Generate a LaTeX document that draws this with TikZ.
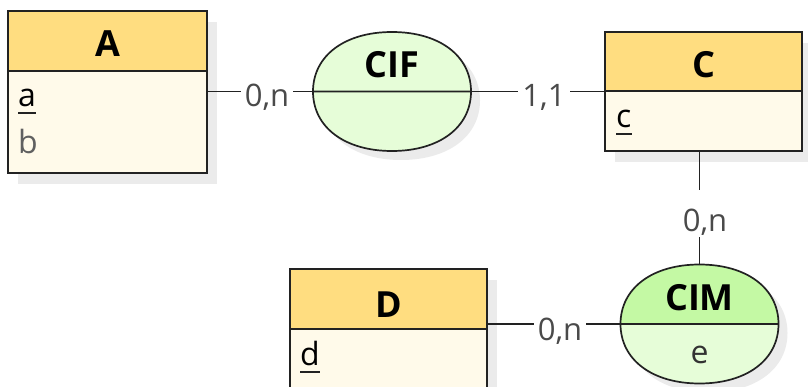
\documentclass[tikz,border=0pt]{standalone}
\usepackage{fontspec}
\setmainfont{Open Sans}
\usetikzlibrary{calc}
\definecolor{hdr}{HTML}{FFDD80}
\definecolor{bodyc}{HTML}{FFFAEA}
\definecolor{asslight}{HTML}{E6FDD8}
\definecolor{assdark}{HTML}{C4F9A4}
\definecolor{shadowc}{HTML}{EBEBEB}
\definecolor{bord}{HTML}{222222}
\definecolor{lblc}{HTML}{4A4A4A}
\definecolor{attrgray}{HTML}{606060}
\pgfdeclarelayer{bg}
\pgfsetlayers{bg,main}
\newcommand\kk{0.6}
\newcommand\assoctop[1]{(#1.west) .. controls ($(#1.west)!\kk!(#1.north west)$) and ($(#1.north)!\kk!(#1.north west)$) .. (#1.north) .. controls ($(#1.north)!\kk!(#1.north east)$) and ($(#1.east)!\kk!(#1.north east)$) .. (#1.east)}
\newcommand\assocbot[1]{(#1.east) .. controls ($(#1.east)!\kk!(#1.south east)$) and ($(#1.south)!\kk!(#1.south east)$) .. (#1.south) .. controls ($(#1.south)!\kk!(#1.south west)$) and ($(#1.west)!\kk!(#1.south west)$) .. (#1.west)}
\newcommand\drawassoc[3]{%
  \fill[#2] \assoctop{#1} -- cycle;
  \fill[#3] \assocbot{#1} -- cycle;
  \draw[link] \assoctop{#1} \assocbot{#1} -- cycle;
  \draw[link] (#1.west) -- (#1.east);
}
\begin{document}
\begin{tikzpicture}[x=1pt,y=1pt,
  box/.style={draw=bord, line width=1.7pt, inner sep=0pt, outer sep=0pt, anchor=north west},
  assoc/.style={inner sep=0pt, outer sep=0pt, minimum width=158pt, minimum height=119pt},
  title/.style={font=\fontsize{36}{42}\selectfont\bfseries, text=black, inner sep=0pt, anchor=base},
  attr/.style={font=\fontsize{32}{38}\selectfont, inner sep=0pt, anchor=base west},
  card/.style={font=\fontsize{31}{36}\selectfont, text=lblc, fill=white, inner xsep=4pt, inner ysep=4pt, anchor=base},
  link/.style={draw=bord, line width=1.7pt},
  uline/.style={draw=bord, line width=1.8pt}]
\useasboundingbox (0,0) rectangle (808,-387);

% entity A
\node[box, fill=hdr, minimum width=199pt, minimum height=60pt] (Ah) at (8,-11) {};
\node[box, fill=bodyc, minimum width=199pt, minimum height=102pt] (Ab) at (Ah.south west) {};
\node[title] (At) at (107.5,-57) {A};
\node[attr, text=black] (Aa) at (18,-107) {a};
\node[attr, text=attrgray] (Abb) at (18,-154) {b};

% entity C
\node[box, fill=hdr, minimum width=197pt, minimum height=59pt] (Ch) at (605,-32) {};
\node[box, fill=bodyc, minimum width=197pt, minimum height=60pt] (Cb) at (Ch.south west) {};
\node[title] (Ct) at (703.5,-78) {C};
\node[attr, text=black] (Cc) at (616,-128) {c};

% entity D
\node[box, fill=hdr, minimum width=197pt, minimum height=60pt] (Dh) at (290,-269) {};
\node[box, fill=bodyc, minimum width=197pt, minimum height=90pt] (Db) at (Dh.south west) {};
\node[title] (Dt) at (388.5,-317) {D};
\node[attr, text=black] (Dd) at (300,-365) {d};

% associations
\node[assoc] (cif) at (392,-91.5) {};
\node[assoc] (cim) at (699.5,-324) {};
\node[assoc] (cifsh) at ([shift={(9,-9)}]cif.center) {};
\node[assoc] (cimsh) at ([shift={(9,-9)}]cim.center) {};

\begin{pgfonlayer}{bg}
  \fill[shadowc] ([shift={(10,-11)}]Ah.north west) rectangle ([shift={(10,-11)}]Ab.south east);
  \fill[shadowc] ([shift={(10,-11)}]Ch.north west) rectangle ([shift={(10,-11)}]Cb.south east);
  \fill[shadowc] ([shift={(10,-11)}]Dh.north west) rectangle ([shift={(10,-11)}]Db.south east);
  \fill[shadowc] \assoctop{cifsh} \assocbot{cifsh} -- cycle;
  \fill[shadowc] \assoctop{cimsh} \assocbot{cimsh} -- cycle;
\end{pgfonlayer}

\drawassoc{cif}{asslight}{asslight}
\drawassoc{cim}{assdark}{asslight}
\node[title] (ciftxt) at (392,-78) {CIF};
\node[title] (cimtxt) at (699.5,-310) {CIM};
\node[attr, anchor=base, text=black!80] (cime) at (699.5,-363) {e};

% underlines of identifiers
\draw[uline] ([yshift=-6pt]Aa.base west) -- ([yshift=-6pt]Aa.base east);
\draw[uline] ([yshift=-6pt]Cc.base west) -- ([yshift=-6pt]Cc.base east);
\draw[uline] ([yshift=-7pt]Dd.base west) -- ([yshift=-7pt]Dd.base east);

% links
\draw[link] (cif.west) -- (cif.west -| Ab.east);
\draw[link] (cif.east) -- (cif.east -| Ch.west);
\draw[link] (cim.north) -- (cim.north |- Cb.south);
\draw[link] (cim.west) -- (cim.west -| Dh.east);

% cardinalities
\node[card] (k1) at (267,-107) {0,n};
\node[card] (k2) at (544,-107) {1,1};
\node[card, text height=38pt, text depth=1pt] (k3) at (705,-232) {0,n};
\node[card] (k4) at (560,-340) {0,n};
\end{tikzpicture}
\end{document}
